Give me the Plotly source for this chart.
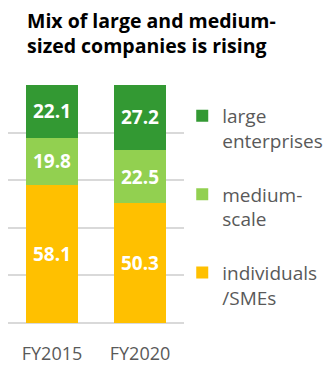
import plotly.graph_objects as go

categories = ["FY2015", "FY2020"]
individuals = [58.1, 50.3]
medium = [19.8, 22.5]
large = [22.1, 27.2]
series_names = ["individuals<br>/SMEs", "medium-<br>scale", "large<br>enterprises"]
legend_ranks = [3, 2, 1]
colors = ["#FFC000", "#92D050", "#339933"]
title_text = "Mix of large and medium-<br>sized companies is rising"

FONT = "Open Sans, Noto Sans, sans-serif"

fig = go.Figure()
for name, vals, col, grp, rk in zip(series_names, [individuals, medium, large], colors,
                                    ["a", "b", "c"], legend_ranks):
    fig.add_trace(go.Bar(
        x=categories, y=vals, name=name, marker_color=col, marker_line_width=0,
        text=[f"{v:.1f}" for v in vals], textposition="inside", insidetextanchor="middle",
        textfont=dict(color="white", size=19, family=FONT, weight="bold"),
        legendgroup=grp, legendrank=rk, hoverinfo="skip",
    ))

fig.update_layout(
    width=335, height=365,
    margin=dict(l=8, r=151, t=85, b=42, autoexpand=False),
    barmode="stack", bargap=0.4,
    plot_bgcolor="white", paper_bgcolor="white",
    font=dict(family=FONT, color="#595959"),
    showlegend=True,
    legend=dict(
        x=0.99, xanchor="left", y=0.95, yanchor="top", xref="paper",
        traceorder="grouped", tracegroupgap=26, valign="top",
        font=dict(size=19, color="#595959", family=FONT),
        itemwidth=30, bgcolor="rgba(0,0,0,0)",
    ),
    annotations=[dict(
        text="<b>" + title_text + "</b>", xref="paper", yref="paper",
        x=(25 - 8) / 176, xanchor="left", y=1 + (85 - 5) / 238, yanchor="top",
        showarrow=False, align="left",
        font=dict(size=19.5, color="black", family=FONT),
    )],
)
fig.update_xaxes(showline=False, ticks="", ticklabelstandoff=18, automargin=False,
                 tickfont=dict(size=18, color="#595959", family=FONT))
fig.update_yaxes(range=[0, 100], dtick=20, showticklabels=False, gridcolor="#D9D9D9",
                 gridwidth=1.5, zeroline=True, zerolinecolor="#D9D9D9", zerolinewidth=1.5)

fig.write_html("out.html")
